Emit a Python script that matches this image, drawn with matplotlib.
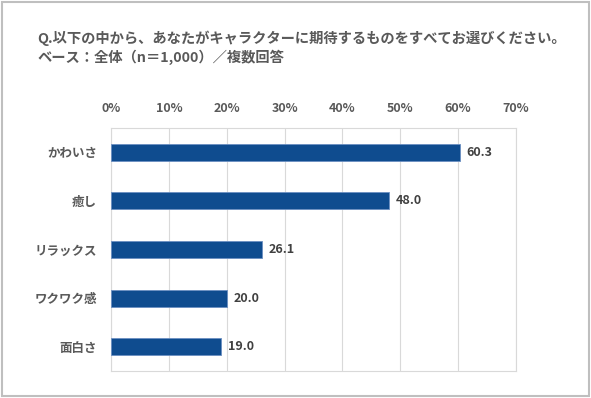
import matplotlib.pyplot as plt
from matplotlib.patches import Rectangle

plt.rcParams['font.family'] = ['Noto Sans CJK JP', 'DejaVu Sans']

categories = ['かわいさ', '癒し', 'リラックス', 'ワクワク感', '面白さ']
values = [60.3, 48.0, 26.1, 20.0, 19.0]
xticks = [0, 10, 20, 30, 40, 50, 60, 70]

title1 = 'Q.以下の中から、あなたがキャラクターに期待するものをすべてお選びください。'
title2 = 'ベース：全体（n＝1,000）／複数回答'

fig = plt.figure(figsize=(5.91, 3.98), dpi=100)
fig.patches.append(Rectangle((0.004, 0.004), 0.992, 0.992, transform=fig.transFigure,
                             fill=False, edgecolor='#bfbfbf', linewidth=1.5))

fig.text(37 / 591, 1 - 38 / 398, title1, fontsize=10.3, fontweight='bold',
         color='#595959', va='center', ha='left')
fig.text(37 / 591, 1 - 57 / 398, title2, fontsize=10.3, fontweight='bold',
         color='#595959', va='center', ha='left')

ax = fig.add_axes([111 / 591, 1 - 371 / 398, 405 / 591, 243 / 398])
y = range(len(categories))
bars = ax.barh(y, values, height=0.35, color='#0f4c8f', edgecolor='#6b8fc2', linewidth=0.6, zorder=3)
ax.set_ylim(len(categories) - 0.5, -0.5)
ax.set_xlim(0, 70)
ax.set_xticks(xticks)
ax.set_xticklabels([f'{t}%' for t in xticks])
ax.xaxis.tick_top()
ax.set_yticks(list(y))
ax.set_yticklabels(categories)
ax.tick_params(axis='both', length=0, labelsize=9, labelcolor='#595959')
ax.tick_params(axis='x', pad=9)
ax.tick_params(axis='y', pad=10)
for lab in ax.get_xticklabels() + ax.get_yticklabels():
    lab.set_fontweight('bold')
ax.grid(axis='x', color='#d9d9d9', linewidth=0.8, zorder=0)
for s in ax.spines.values():
    s.set_color('#d9d9d9')
    s.set_linewidth(0.8)

for b, v in zip(bars, values):
    ax.text(b.get_width() + 1.2, b.get_y() + b.get_height() / 2, f'{v:.1f}',
            va='center', ha='left', fontsize=9, fontweight='bold', color='#404040')

fig.savefig('out.png', dpi=100)
